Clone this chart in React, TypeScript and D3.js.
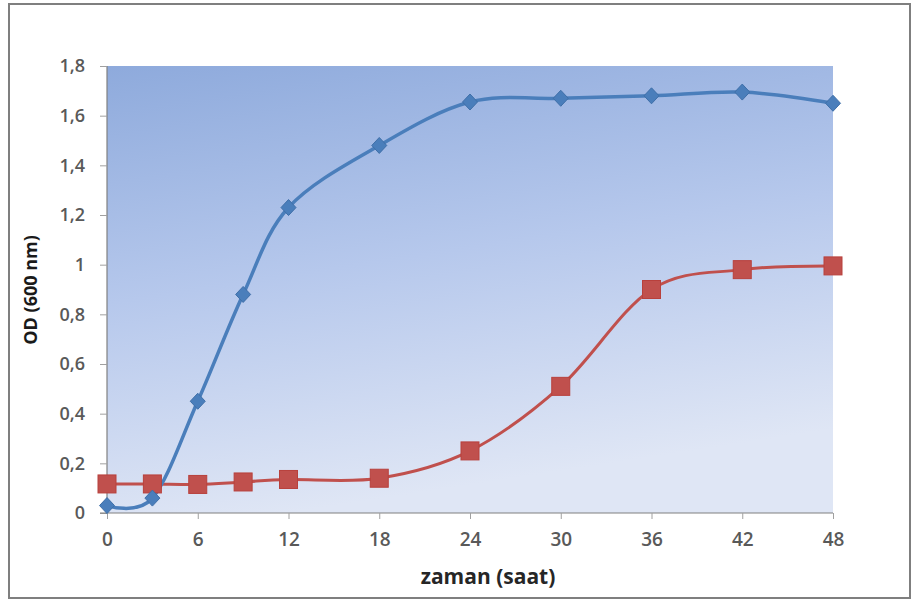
import React, { useEffect, useRef } from 'react';
import * as d3 from 'd3';

const hours = [0, 3, 6, 9, 12, 18, 24, 30, 36, 42, 48];
const blueValues = [0.03, 0.06, 0.45, 0.88, 1.23, 1.48, 1.655, 1.67, 1.68, 1.695, 1.65];
const redValues = [0.117, 0.117, 0.115, 0.125, 0.135, 0.14, 0.25, 0.51, 0.9, 0.98, 0.995];
const xTicks = [0, 6, 12, 18, 24, 30, 36, 42, 48];
const yTicks = [0, 0.2, 0.4, 0.6, 0.8, 1, 1.2, 1.4, 1.6, 1.8];

const W = 912;
const H = 601;

const App = () => {
  const ref = useRef<SVGSVGElement>(null);

  useEffect(() => {
    const svg = d3.select(ref.current);
    svg.selectAll('*').remove();

    const margin = { top: 66, right: 79, bottom: 88, left: 107 };
    const innerW = W - margin.left - margin.right;
    const innerH = H - margin.top - margin.bottom;

    // outer frame
    svg.append('rect')
      .attr('x', 9).attr('y', 4)
      .attr('width', 901).attr('height', 594)
      .attr('fill', '#fff')
      .attr('stroke', '#7f7f7f')
      .attr('stroke-width', 2);

    const defs = svg.append('defs');
    const grad = defs.append('linearGradient')
      .attr('id', 'bg')
      .attr('x1', 0).attr('y1', 0)
      .attr('x2', 0.25).attr('y2', 1);
    grad.append('stop').attr('offset', '0%').attr('stop-color', '#8eaadc');
    grad.append('stop').attr('offset', '50%').attr('stop-color', '#b6c8ec');
    grad.append('stop').attr('offset', '100%').attr('stop-color', '#dfe6f5');

    const x = d3.scaleLinear().domain([0, 48]).range([0, innerW]);
    const y = d3.scaleLinear().domain([0, 1.8]).range([innerH, 0]);

    const g = svg.append('g')
      .attr('transform', `translate(${margin.left},${margin.top})`);

    g.append('rect')
      .attr('width', innerW).attr('height', innerH)
      .attr('fill', 'url(#bg)');

    const fmt = (d: number) => String(+d.toFixed(1)).replace('.', ',');

    // Y axis
    const yAxis = g.append('g')
      .call(d3.axisLeft(y).tickValues(yTicks).tickSize(7).tickPadding(15).tickFormat(d => fmt(+d)));
    yAxis.select('.domain').attr('stroke', '#808080').attr('stroke-width', 1.2).attr('d', `M0,0V${innerH}`);
    yAxis.selectAll('.tick line').attr('stroke', '#a0a0a0');
    yAxis.selectAll('text')
      .attr('fill', '#595959')
      .style('font-family', '"Open Sans", sans-serif')
      .style('font-size', '18px')
      .style('font-weight', 600);

    // X axis
    const xAxis = g.append('g')
      .attr('transform', `translate(0,${innerH})`)
      .call(d3.axisBottom(x).tickValues(xTicks).tickSize(6).tickPadding(14).tickFormat(d => String(d)));
    xAxis.select('.domain').attr('stroke', '#808080').attr('stroke-width', 1.2).attr('d', `M-7,0H${innerW}`);
    xAxis.selectAll('.tick line').attr('stroke', '#a0a0a0');
    xAxis.selectAll('text')
      .attr('fill', '#595959')
      .style('font-family', '"Open Sans", sans-serif')
      .style('font-size', '19px')
      .style('font-weight', 600);

    // Excel-like smoothing
    const line = (vals: number[]) => d3.line<number>()
      .x((_, i) => x(hours[i]))
      .y(d => y(d))
      .curve(d3.curveCardinal.tension(0))(vals);

    // red series
    g.append('path')
      .attr('d', line(redValues))
      .attr('fill', 'none')
      .attr('stroke', '#c0504d')
      .attr('stroke-width', 3);

    // blue series
    g.append('path')
      .attr('d', line(blueValues))
      .attr('fill', 'none')
      .attr('stroke', '#4a7ebb')
      .attr('stroke-width', 3.5);

    g.selectAll('.sq')
      .data(redValues)
      .enter()
      .append('rect')
      .attr('x', (_, i) => x(hours[i]) - 9)
      .attr('y', d => y(d) - 9)
      .attr('width', 18).attr('height', 18)
      .attr('fill', '#c0504d')
      .attr('stroke', '#b8403c')
      .attr('stroke-width', 1);

    g.selectAll('.dm')
      .data(blueValues)
      .enter()
      .append('path')
      .attr('d', 'M0,-8L7.5,0L0,8L-7.5,0Z')
      .attr('transform', (d, i) => `translate(${x(hours[i])},${y(d)})`)
      .attr('fill', '#4a7ebb')
      .attr('stroke', '#3f6fa8')
      .attr('stroke-width', 1);

    // axis titles
    svg.append('text')
      .attr('x', 488).attr('y', 584)
      .attr('text-anchor', 'middle')
      .attr('fill', '#262626')
      .style('font-family', '"Open Sans", sans-serif')
      .style('font-size', '21px')
      .style('font-weight', 700)
      .text('zaman (saat)');

    svg.append('text')
      .attr('transform', 'translate(37,290) rotate(-90)')
      .attr('text-anchor', 'middle')
      .attr('fill', '#1a1a1a')
      .style('font-family', '"Open Sans", sans-serif')
      .style('font-size', '18px')
      .style('font-weight', 700)
      .text('OD (600 nm)');
  }, []);

  return (
    <svg ref={ref} width={W} height={H}
      style={{ position: 'absolute', left: 0, top: 0, display: 'block' }} />
  );
};

export default App;
